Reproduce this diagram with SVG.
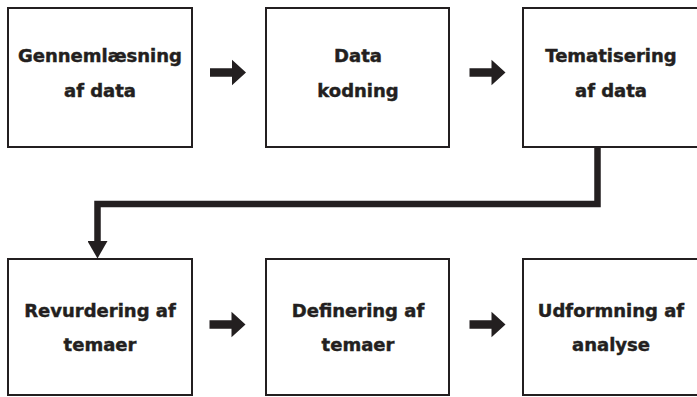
<svg xmlns="http://www.w3.org/2000/svg" width="697" height="397" viewBox="0 0 697 397">
  <style>
    .box { fill: #ffffff; stroke: #231f20; stroke-width: 2; }
    .lbl { font-family: "DejaVu Sans", Verdana, sans-serif; font-weight: bold; font-size: 18px; fill: #231f20; stroke: #231f20; stroke-width: 0.45; text-anchor: middle; }
    .arr { fill: #231f20; }
    .conn { fill: none; stroke: #231f20; stroke-width: 6.5; stroke-linejoin: miter; }
  </style>
  <defs>
    <path id="fat-arrow" d="M0,-4.25 H22 V-12.75 L36,0 L22,12.75 V4.25 H0 Z"/>
    <marker id="head" markerUnits="userSpaceOnUse" markerWidth="18" markerHeight="20" refX="0" refY="10" orient="auto">
      <path d="M0,0 L17.5,10 L0,20 Z" fill="#231f20"/>
    </marker>
  </defs>
  <rect width="697" height="397" fill="#ffffff"/>

  <g id="node-gennemlaesning">
    <rect class="box" x="8" y="8" width="184" height="139"/>
    <text class="lbl" x="100" y="62">Gennemlæsning</text>
    <text class="lbl" x="100" y="97">af data</text>
  </g>
  <g id="node-datakodning">
    <rect class="box" x="266" y="8" width="183" height="139"/>
    <text class="lbl" x="358" y="62">Data</text>
    <text class="lbl" x="358" y="97">kodning</text>
  </g>
  <g id="node-tematisering">
    <rect class="box" x="523" y="8" width="176" height="139"/>
    <text class="lbl" x="611" y="62">Tematisering</text>
    <text class="lbl" x="611" y="97">af data</text>
  </g>
  <g id="node-revurdering">
    <rect class="box" x="8" y="259" width="184" height="136"/>
    <text class="lbl" x="100" y="317">Revurdering af</text>
    <text class="lbl" x="100" y="351">temaer</text>
  </g>
  <g id="node-definering">
    <rect class="box" x="266" y="259" width="183" height="136"/>
    <text class="lbl" x="358" y="317">Definering af</text>
    <text class="lbl" x="358" y="351">temaer</text>
  </g>
  <g id="node-udformning">
    <rect class="box" x="523" y="259" width="176" height="136"/>
    <text class="lbl" x="611" y="317">Udformning af</text>
    <text class="lbl" x="611" y="351">analyse</text>
  </g>

  <g id="connectors">
    <use href="#fat-arrow" class="arr" transform="translate(210,72.5)"/>
    <use href="#fat-arrow" class="arr" transform="translate(469.5,72.5)"/>
    <use href="#fat-arrow" class="arr" transform="translate(209.5,324.5)"/>
    <use href="#fat-arrow" class="arr" transform="translate(469.5,324.5)"/>
    <path class="conn" d="M597.5,148 V204 H97.5 V241" marker-end="url(#head)"/>
  </g>
</svg>
